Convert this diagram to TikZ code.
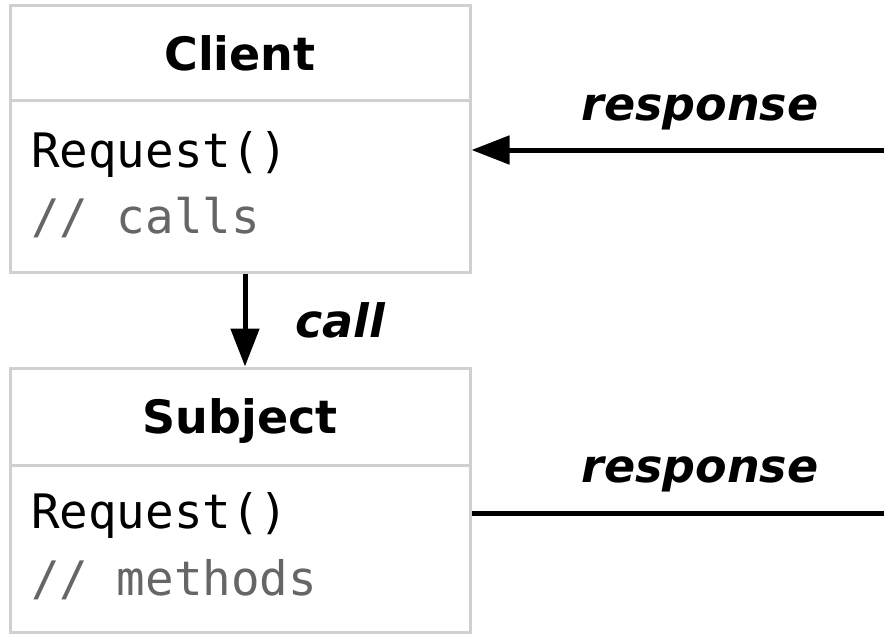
\documentclass[tikz,border=0pt]{standalone}
\usepackage{fontspec}
\setmainfont{DejaVu Sans}
\newfontfamily\codefont{DejaVu Sans Mono}
\usetikzlibrary{arrows.meta}
\definecolor{boxgray}{RGB}{208,208,208}
\definecolor{notegray}{RGB}{102,102,102}
\tikzset{
  classbox/.style={draw=boxgray,line width=3pt,minimum width=460pt,inner sep=0pt},
  classname/.style={anchor=base,inner sep=0pt,font=\fontsize{46}{46}\selectfont\bfseries},
  opline/.style={anchor=base west,inner sep=0pt,font=\fontsize{47.5}{47.5}\selectfont\codefont},
  noteline/.style={opline,text=notegray},
  msglabel/.style={inner sep=0pt,font=\fontsize{46}{46}\selectfont\bfseries\itshape},
  flow/.style={line width=5pt,-{Triangle[length=38pt,width=28pt]}},
  link/.style={line width=5pt}
}
\begin{document}
\begin{tikzpicture}[x=1pt,y=-1pt]
  \useasboundingbox (0,0) rectangle (884,635);
  % the two classes
  \node[classbox,minimum height=267pt] (client) at (240,138.5) {};
  \node[classbox,minimum height=264pt] (subject) at (240,500) {};
  \draw[boxgray,line width=3pt] (client.west |- 0,100) -- (client.east |- 0,100);
  \draw[boxgray,line width=3pt] (subject.west |- 0,465) -- (subject.east |- 0,465);
  \node[classname] (clientname) at (240,70) {Client};
  \node[opline] (clientop) at (31,167) {Request()};
  \node[noteline] (clientnote) at (31,233) {// calls};
  \node[classname] (subjectname) at (240,433) {Subject};
  \node[opline] (subjectop) at (31,528) {Request()};
  \node[noteline] (subjectnote) at (31,595) {// methods};
  % messages
  \path
    (884,150) coordinate (rtop)
    (884,513) coordinate (rbot);
  \draw[flow] ([xshift=5pt]client.south) -- ([xshift=5pt]subject.north);
  \node[msglabel,anchor=base west] (calllabel) at (295,337) {call};
  \draw[flow] (rtop) -- (rtop -| client.east);
  \node[msglabel,anchor=base] (resptop) at (700,120) {response};
  \draw[link] (subject.east |- rbot) -- (rbot);
  \node[msglabel,anchor=base] (respbot) at (700,482) {response};
\end{tikzpicture}
\end{document}
